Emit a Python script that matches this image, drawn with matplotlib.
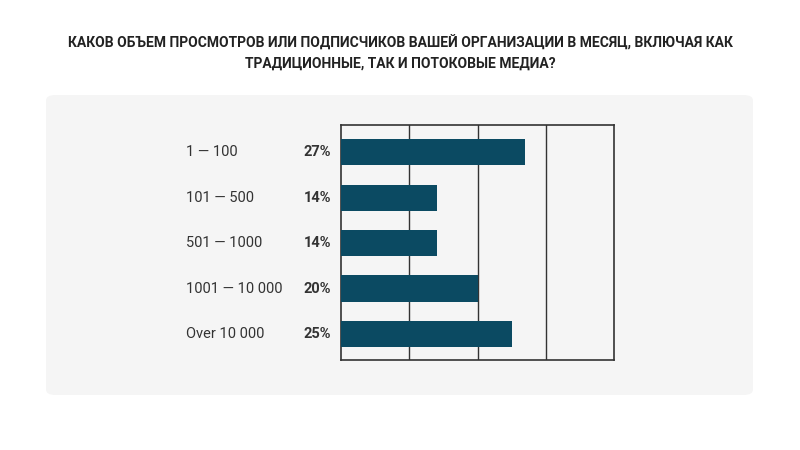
import matplotlib.pyplot as plt
import matplotlib.patches as ptch

plt.rcParams["font.family"] = "Roboto"

# Chart data
categories = ["1 — 100", "101 — 500", "501 — 1000", "1001 — 10 000", "Over 10 000"]
values = [27, 14, 14, 20, 25]
pct_labels = ["27%", "14%", "14%", "20%", "25%"]
title = "КАКОВ ОБЪЕМ ПРОСМОТРОВ ИЛИ ПОДПИСЧИКОВ ВАШЕЙ ОРГАНИЗАЦИИ В МЕСЯЦ, ВКЛЮЧАЯ КАК\nТРАДИЦИОННЫЕ, ТАК И ПОТОКОВЫЕ МЕДИА?"

W, H = 800, 450
fig = plt.figure(figsize=(8, 4.5), dpi=100)
fig.patch.set_facecolor("white")

# Gray rounded panel
fig.patches.append(ptch.FancyBboxPatch((46 / W, 1 - 395 / H), 707 / W, 300 / H,
	boxstyle="round,pad=0,rounding_size=0.012", transform=fig.transFigure,
	facecolor="#f5f5f5", edgecolor="none", zorder=-1))

fig.text(0.5, 1 - 53 / H, title, ha="center", va="center", fontsize=10,
	fontweight="bold", color="#222222", linespacing=1.5)

# Axes area
ax = fig.add_axes([341 / W, 1 - 360 / H, 273 / W, 235 / H])
ax.set_zorder(2)
ax.set_facecolor("#f5f5f5")
y = list(range(len(categories)))
ax.barh(y, values, height=0.58, color="#0b4a62", zorder=3)
ax.set_xlim(0, 40)
ax.set_ylim(len(categories) - 0.43, -0.6)
ax.set_xticks([10, 20, 30])
ax.grid(axis="x", color="#333333", linewidth=1, zorder=1)
ax.tick_params(length=0, labelbottom=False, labelleft=False)
for s in ax.spines.values():
	s.set_color("#333333")
	s.set_linewidth(1.2)

for i, (c, p) in enumerate(zip(categories, pct_labels)):
	ax.text(-155 / 273 * 40, i, c, ha="left", va="center", fontsize=10.5, color="#333333")
	ax.text(-10 / 273 * 40, i, p, ha="right", va="center", fontsize=10.5, fontweight="bold", color="#333333")

plt.savefig("out.png", dpi=100)
